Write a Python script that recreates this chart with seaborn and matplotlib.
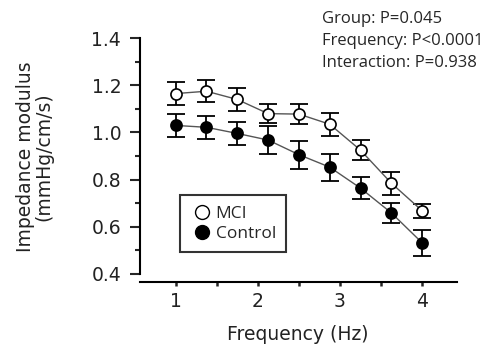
import numpy as np
import pandas as pd
import matplotlib
matplotlib.use("Agg")
import matplotlib.pyplot as plt
from matplotlib.lines import Line2D
import seaborn as sns

# Datos
frecuencia = [1.0, 1.375, 1.75, 2.125, 2.5, 2.875, 3.25, 3.625, 4.0]
mci = [1.165, 1.175, 1.14, 1.08, 1.078, 1.035, 0.925, 0.785, 0.668]
mci_err = [0.048, 0.046, 0.049, 0.039, 0.042, 0.049, 0.043, 0.049, 0.030]
control = [1.03, 1.022, 0.996, 0.968, 0.906, 0.853, 0.764, 0.659, 0.532]
control_err = [0.048, 0.049, 0.050, 0.061, 0.060, 0.057, 0.046, 0.044, 0.054]
estadisticos = ["Group: P=0.045", "Frequency: P<0.0001", "Interaction: P=0.938"]

sns.set_style("ticks")
plt.rcParams["font.family"] = ["DejaVu Sans"]

fig = plt.figure(figsize=(4.9, 3.54), dpi=100)
ax = fig.add_axes([0.2847, 0.2034, 0.6473, 0.6921])

# Barras de error detras de los marcadores
ax.errorbar(frecuencia, mci, yerr=mci_err, fmt="none", ecolor="black",
            elinewidth=1.3, capsize=6.5, capthick=1.3, zorder=1)
ax.errorbar(frecuencia, control, yerr=control_err, fmt="none", ecolor="black",
            elinewidth=1.3, capsize=6.5, capthick=1.3, zorder=1)

# Lineas con marcadores (MCI abierto, Control relleno)
sns.lineplot(x=frecuencia, y=mci, color="#555555", linewidth=1.0, marker="o",
             markersize=8, markerfacecolor="white", markeredgecolor="black",
             markeredgewidth=1.2, ax=ax, zorder=2)
sns.lineplot(x=frecuencia, y=control, color="#555555", linewidth=1.0, marker="o",
             markersize=8, markerfacecolor="black", markeredgecolor="black",
             markeredgewidth=1.2, ax=ax, zorder=2)

ax.set_xlim(0.56, 4.42)
ax.set_ylim(0.366, 1.405)
ax.set_xticks([1, 2, 3, 4])
ax.set_xticks([1.5, 2.5, 3.5], minor=True)
ax.set_yticks([0.4, 0.6, 0.8, 1.0, 1.2, 1.4])
ax.set_yticks([0.5, 0.7, 0.9, 1.1, 1.3], minor=True)
ax.set_yticklabels(["0.4", "0.6", "0.8", "1.0", "1.2", "1.4"])
ax.spines["left"].set_bounds(0.4, 1.4)
sns.despine(ax=ax)
for s in ["left", "bottom"]:
    ax.spines[s].set_linewidth(1.5)
    ax.spines[s].set_color("black")
ax.tick_params(axis="y", which="major", length=7.2, width=1.5, labelsize=13.5,
               pad=6, labelcolor="#222222")
ax.tick_params(axis="y", which="minor", length=3.6, width=1.5)
ax.tick_params(axis="x", which="both", length=3, width=1.8, labelsize=13.5,
               pad=4, labelcolor="#222222")

ax.set_xlabel("Frequency (Hz)", fontsize=13.5, labelpad=10, color="#222222")
ax.set_ylabel("Impedance modulus\n(mmHg/cm/s)", fontsize=13.5, linespacing=1.0,
              color="#222222")
ax.yaxis.set_label_coords(-0.27, 0.51)

handles = [
    Line2D([], [], marker="o", linestyle="none", markersize=10,
           markerfacecolor="white", markeredgecolor="black", label="MCI"),
    Line2D([], [], marker="o", linestyle="none", markersize=10,
           markerfacecolor="black", markeredgecolor="black", label="Control"),
]
leg = ax.legend(handles=handles, loc="lower left", bbox_to_anchor=(0.128, 0.122),
                borderaxespad=0, frameon=True, fancybox=False, edgecolor="black",
                handletextpad=0.15, borderpad=0.6, handlelength=1.3,
                labelspacing=0.2, prop={"family": "Open Sans", "size": 12.5})
leg.get_frame().set_linewidth(1.5)

fig.text(0.657, 0.969, "\n".join(estadisticos), ha="left", va="top",
         fontsize=12, family="Open Sans", linespacing=1.5)

fig.savefig("out.png", dpi=100)
